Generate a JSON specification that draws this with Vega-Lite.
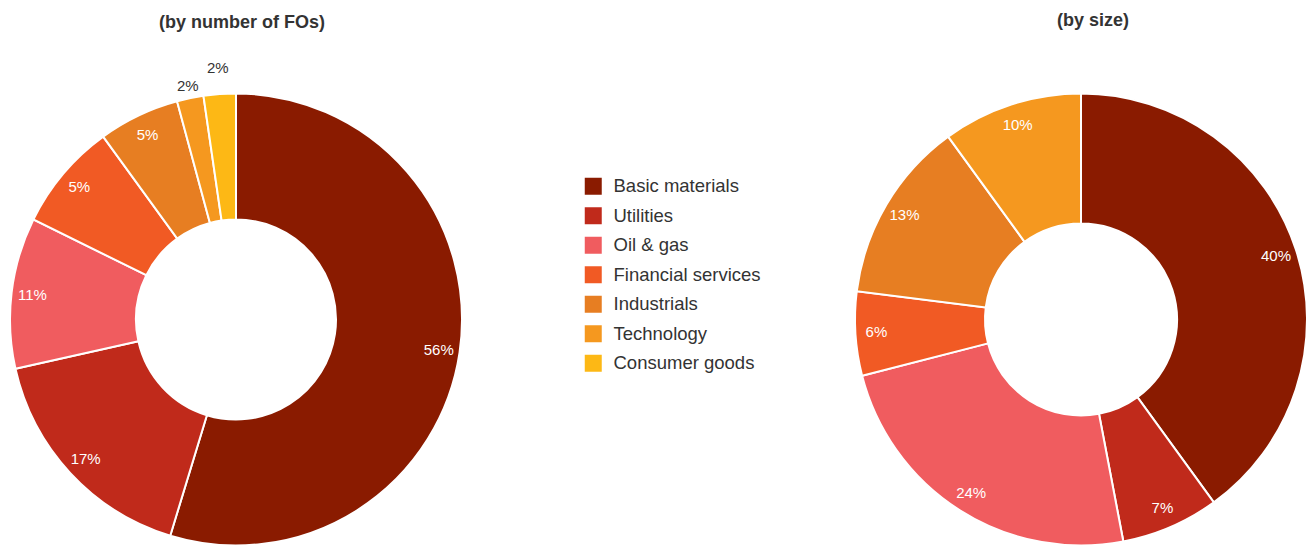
{
  "$schema": "https://vega.github.io/schema/vega-lite/v6.json",
  "autosize": {"type": "pad"},
  "padding": {"left": 0, "top": 12, "right": 0, "bottom": 0},
  "bounds": "flush",
  "spacing": 379,
  "background": "white",
  "config": {
    "view": {"stroke": null},
    "font": "Liberation Sans",
    "title": {"fontSize": 18, "fontWeight": "bold", "color": "#333333", "font": "Liberation Sans", "baseline": "alphabetic"},
    "legend": {
      "symbolType": "square", "symbolSize": 289, "symbolStrokeWidth": 0, "symbolOpacity": 1,
      "labelFontSize": 18.5, "labelColor": "#333333", "labelFont": "Liberation Sans",
      "rowPadding": 10.5, "labelOffset": 11, "padding": 0
    }
  },
  "datasets": {
    "byNumber": [
      {"sector": "Basic materials", "idx": 1, "share": 54.7, "label": "56%"},
      {"sector": "Utilities", "idx": 2, "share": 16.8, "label": "17%"},
      {"sector": "Oil & gas", "idx": 3, "share": 10.8, "label": "11%"},
      {"sector": "Financial services", "idx": 4, "share": 7.7, "label": "5%"},
      {"sector": "Industrials", "idx": 5, "share": 5.8, "label": "5%"},
      {"sector": "Technology", "idx": 6, "share": 1.9, "label": "2%"},
      {"sector": "Consumer goods", "idx": 7, "share": 2.3, "label": "2%"}
    ],
    "bySize": [
      {"sector": "Basic materials", "idx": 1, "share": 40, "label": "40%"},
      {"sector": "Utilities", "idx": 2, "share": 7, "label": "7%"},
      {"sector": "Oil & gas", "idx": 3, "share": 24, "label": "24%"},
      {"sector": "Financial services", "idx": 4, "share": 6, "label": "6%"},
      {"sector": "Industrials", "idx": 5, "share": 13, "label": "13%"},
      {"sector": "Technology", "idx": 6, "share": 10, "label": "10%"}
    ]
  },
  "hconcat": [
    {
      "width": 472,
      "height": 453,
      "title": {"text": "(by number of FOs)", "offset": 29, "dx": 6},
      "data": {"name": "byNumber"},
      "encoding": {
        "theta": {"field": "share", "type": "quantitative", "stack": true},
        "order": {"field": "idx", "type": "quantitative"}
      },
      "layer": [
        {
          "mark": {"type": "arc", "radius": 226, "radius2": 100, "stroke": "white", "strokeWidth": 2},
          "encoding": {
            "color": {
              "field": "sector", "type": "nominal",
              "scale": {
                "domain": ["Basic materials", "Utilities", "Oil & gas", "Financial services", "Industrials", "Technology", "Consumer goods"],
                "range": ["#8A1B00", "#C02A1B", "#F05C5F", "#F15A24", "#E77E22", "#F5981F", "#FDB815"]
              },
              "legend": {"title": null, "orient": "none", "legendX": 584, "legendY": 84}
            }
          }
        },
        {
          "mark": {"type": "text", "fontSize": 15, "radius": {"expr": "datum.idx == 6 ? 238 : (datum.idx == 7 ? 252 : 205)"}},
          "encoding": {
            "text": {"field": "label"},
            "color": {"condition": {"test": "datum.idx <= 5", "value": "white"}, "value": "#333333"}
          }
        }
      ]
    },
    {
      "width": 460,
      "height": 453,
      "title": {"text": "(by size)", "offset": 59.5, "dx": 12},
      "data": {"name": "bySize"},
      "encoding": {
        "theta": {"field": "share", "type": "quantitative", "stack": true},
        "order": {"field": "idx", "type": "quantitative"}
      },
      "layer": [
        {
          "mark": {"type": "arc", "radius": 226, "radius2": 96, "stroke": "white", "strokeWidth": 2},
          "encoding": {
            "color": {"field": "sector", "type": "nominal"}
          }
        },
        {
          "mark": {"type": "text", "radius": 205, "fontSize": 15, "color": "white"},
          "encoding": {
            "text": {"field": "label"}
          }
        }
      ]
    }
  ]
}
